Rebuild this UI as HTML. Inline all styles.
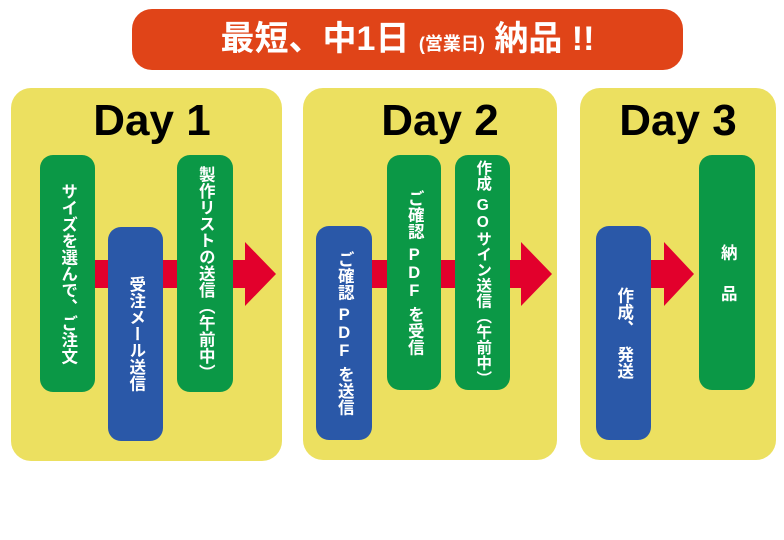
<!DOCTYPE html>
<html><head><meta charset="utf-8"><style>
body{margin:0;width:784px;height:540px;background:#fff;position:relative;overflow:hidden;font-family:"Liberation Sans","Noto Sans CJK JP",sans-serif;}
.a{position:absolute}
.panel{position:absolute;background:#ece060;border-radius:20px}
.day{position:absolute;font-weight:bold;font-size:44px;color:#000;text-align:center;line-height:1;top:99px}
.box{position:absolute;border-radius:13px;display:flex;align-items:center;justify-content:center;color:#fff;font-weight:bold;font-size:16.5px;writing-mode:vertical-rl;text-orientation:upright;line-height:1;white-space:nowrap}
.box i{display:inline-block;height:6px;width:1px}
.g{background:#0b9846}.b{background:#2a58a8}
</style></head><body>
<div class="a" style="left:132px;top:9px;width:551px;height:61px;background:#e04418;border-radius:20px;color:#fff;font-weight:bold;text-align:center;line-height:61px;font-size:34px;white-space:nowrap">最短、中1日 <span style="font-size:18px">(営業日)</span> 納品 !!</div>

<div class="panel" style="left:11px;top:88px;width:271px;height:373px"></div>
<div class="panel" style="left:303px;top:88px;width:254px;height:372px"></div>
<div class="panel" style="left:580px;top:88px;width:196px;height:372px"></div>

<div class="day" style="left:11px;width:282px">Day 1</div>
<div class="day" style="left:303px;width:274px">Day 2</div>
<div class="day" style="left:580px;width:196px">Day 3</div>

<svg class="a" style="left:0;top:0" width="784" height="540">
<g fill="#e2002c">
<rect x="90" y="260" width="160" height="28"/><polygon points="245,242 276,274 245,306"/>
<rect x="365" y="260" width="160" height="28"/><polygon points="521,242 552,274 521,306"/>
<rect x="648" y="260" width="20" height="28"/><polygon points="664,242 694,274 664,306"/>
</g></svg>

<div class="box g" style="left:40px;top:155px;width:55px;height:237px">サイズを選んで、ご注文</div>
<div class="box b" style="left:108px;top:227px;width:55px;height:214px">受注メール送信</div>
<div class="box g" style="left:177px;top:155px;width:56px;height:237px">製作リストの送信（午前中）</div>

<div class="box b" style="left:316px;top:226px;width:56px;height:214px">ご確認<i></i>PDF<i></i>を送信</div>
<div class="box g" style="left:387px;top:155px;width:54px;height:235px">ご確認<i></i>PDF<i></i>を受信</div>
<div class="box g" style="left:455px;top:155px;width:55px;height:235px;font-size:15.5px">作成<i></i>GOサイン送信（午前中）</div>

<div class="box b" style="left:596px;top:226px;width:55px;height:214px">作成、<i style="height:10px"></i>発送</div>
<div class="box g" style="left:699px;top:155px;width:56px;height:235px">納<i style="height:24px"></i>品</div>
</body></html>
